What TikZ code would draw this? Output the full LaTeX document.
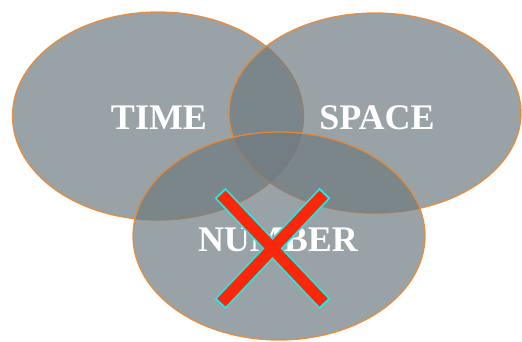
\documentclass[tikz,border=0pt]{standalone}
\usepackage{fontspec}
\setmainfont{Liberation Serif}
\usepackage{xcolor}
\usetikzlibrary{shapes.geometric}

\definecolor{vennfill}{RGB}{110,122,128}
\definecolor{vennline}{RGB}{236,136,50}
\definecolor{crossred}{RGB}{250,40,10}
\definecolor{crossrim}{RGB}{40,230,225}

\begin{document}
\begin{tikzpicture}[
  x=1pt, y=-1pt,
  venn/.style={ellipse, draw=vennline, fill=vennfill, line width=1.3pt,
               fill opacity=.7, draw opacity=.9, inner sep=0pt},
  word/.style={text=white, inner sep=0pt, font=\bfseries\fontsize{36}{36}\selectfont},
  rim/.style={draw=crossrim, line width=15pt, line cap=butt},
  bar/.style={draw=crossred, line width=11.5pt, line cap=butt,
              shorten <=2pt, shorten >=2pt}
]
\useasboundingbox (0,0) rectangle (522,341);

% the three sets
\node[venn, minimum width=291pt, minimum height=208pt] (time) at (158,116) {};
\node[venn, minimum width=292pt, minimum height=200pt] (space) at (375,113) {};
\node[venn, minimum width=292pt, minimum height=208pt] (number) at (279,236) {};

\node[word] (timetext) at (159,118) {TIME};
\node[word] (spacetext) at (377,118) {SPACE};
\node[word] (numbertext) at (278,240) {NUMBER};

% crossed out
\coordinate (xtl) at (220,193);
\coordinate (xbr) at (325,304);
\coordinate (xtr) at (325,193);
\coordinate (xbl) at (220,304);
\draw[rim] (xtl) -- (xbr);
\draw[rim] (xtr) -- (xbl);
\draw[bar] (xtl) -- (xbr);
\draw[bar] (xtr) -- (xbl);
\end{tikzpicture}
\end{document}
